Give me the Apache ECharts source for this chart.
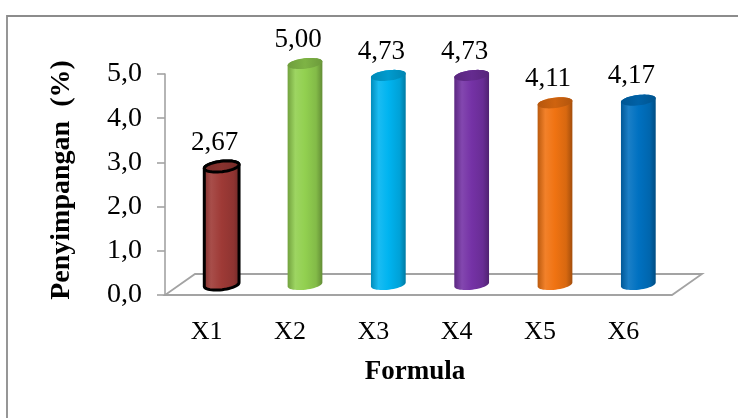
<!DOCTYPE html>
<html>
<head>
<meta charset="utf-8">
<title>Penyimpangan</title>
<script src="https://cdn.jsdelivr.net/npm/echarts@6.0.0/dist/echarts.min.js"></script>
<style>
  html, body { margin: 0; padding: 0; background: #fff; }
  #chart { width: 738px; height: 418px; }
</style>
</head>
<body>
<div id="chart"></div>
<script>
// Data
const categories = ['X1', 'X2', 'X3', 'X4', 'X5', 'X6'];
const values = [2.67, 5.00, 4.73, 4.73, 4.11, 4.17];
const yTickValues = [0, 1, 2, 3, 4, 5];
const barColors = ['#9e3a36', '#92d050', '#00b4f0', '#7532a6', '#f07312', '#0071c1'];
const xTitle = 'Formula';
const yTitle = 'Penyimpangan  (%)';

// Layout of the 3D frame (front axis plane and the depth offset of the floor)
const FONT = '"Liberation Serif", "Times New Roman", serif';
const AX_LEFT = 165, AX_TOP = 74, AX_BOTTOM = 295, PLOT_W = 500;
const DEPTH_X = 30, DEPTH_Y = 21, FLOOR_W = 507;
const PLOT_H = AX_BOTTOM - AX_TOP;

const comma = (v, d) => v.toFixed(d).replace('.', ',');

function hexRgb(h) {
  const n = parseInt(h.slice(1), 16);
  return [(n >> 16) & 255, (n >> 8) & 255, n & 255];
}
function shade(h, f) {
  const [r, g, b] = hexRgb(h);
  return 'rgb(' + [r, g, b].map(c => Math.round(c * f)).join(',') + ')';
}
function tint(h, f) {
  const [r, g, b] = hexRgb(h);
  return 'rgb(' + [r, g, b].map(c => Math.round(c + (255 - c) * f)).join(',') + ')';
}
function hGrad(stops) {
  return { type: 'linear', x: 0, y: 0, x2: 1, y2: 0, colorStops: stops.map(s => ({ offset: s[0], color: s[1] })) };
}
function ellipsePts(cx, cy, rx, ry, rot, t0, t1, n) {
  const c = Math.cos(rot), s = Math.sin(rot), pts = [];
  for (let k = 0; k <= n; k++) {
    const t = t0 + (t1 - t0) * k / n;
    const x = rx * Math.cos(t), y = ry * Math.sin(t);
    pts.push([cx + x * c - y * s, cy + x * s + y * c]);
  }
  return pts;
}

// One shaded cylinder per category, with its value written above it
function renderCylinder(params, api) {
  const idx = api.value(0);
  const v = api.value(1);
  const top = api.coord([idx, v]);
  const base = api.coord([idx, 0]);
  const rx = api.size([1, 0])[0] * 0.21;
  const ry = 5.2, rot = -0.12;
  const col = barColors[idx];
  const outlined = idx === 0;
  const stroke = outlined ? { stroke: '#000', lineWidth: 3 } : {};

  const bodyPts = ellipsePts(top[0], top[1], rx, ry, rot, Math.PI, 2 * Math.PI, 24)
    .concat(ellipsePts(base[0], base[1], rx, ry, rot, 0, Math.PI, 24));
  const capPts = ellipsePts(top[0], top[1], rx, ry, rot, 0, 2 * Math.PI, 48);

  return {
    type: 'group',
    children: [
      {
        type: 'polygon',
        shape: { points: bodyPts },
        style: Object.assign({
          fill: hGrad([[0, shade(col, 0.78)], [0.22, tint(col, 0.1)], [0.5, col], [0.82, shade(col, 0.9)], [1, shade(col, 0.68)]])
        }, stroke)
      },
      {
        type: 'polygon',
        shape: { points: capPts },
        style: Object.assign({
          fill: hGrad([[0, shade(col, 0.76)], [0.5, shade(col, 0.86)], [1, shade(col, 0.74)]])
        }, stroke)
      },
      {
        type: 'text',
        x: top[0] - 7,
        y: top[1] - 24,
        style: {
          text: comma(v, 2),
          fontSize: 27,
          fontFamily: FONT,
          fill: '#000',
          align: 'center',
          verticalAlign: 'middle'
        }
      }
    ]
  };
}

const chart = echarts.init(document.getElementById('chart'), null, { renderer: 'canvas' });

const floor = [
  [AX_LEFT, AX_BOTTOM],
  [AX_LEFT + FLOOR_W, AX_BOTTOM],
  [AX_LEFT + FLOOR_W + DEPTH_X, AX_BOTTOM - DEPTH_Y],
  [AX_LEFT + DEPTH_X, AX_BOTTOM - DEPTH_Y]
];

chart.setOption({
  animation: false,
  backgroundColor: '#fff',
  grid: [
    { left: AX_LEFT, top: AX_TOP, width: PLOT_W, height: PLOT_H },
    { left: AX_LEFT + DEPTH_X / 2, top: AX_TOP - DEPTH_Y / 2, width: PLOT_W, height: PLOT_H }
  ],
  xAxis: [
    {
      gridIndex: 0,
      type: 'category',
      data: categories,
      axisLine: { show: false },
      axisTick: { show: false },
      axisLabel: { fontSize: 26, fontFamily: FONT, color: '#000', margin: 24 }
    },
    { gridIndex: 1, type: 'category', data: categories, show: false }
  ],
  yAxis: [
    {
      gridIndex: 0,
      type: 'value',
      min: yTickValues[0],
      max: yTickValues[yTickValues.length - 1],
      interval: 1,
      axisLine: { show: true, lineStyle: { color: '#a3a3a3', width: 1.6 } },
      axisTick: { show: true, length: 8, lineStyle: { color: '#a3a3a3', width: 1.6 } },
      splitLine: { show: false },
      axisLabel: {
        fontSize: 28, fontFamily: FONT, color: '#000', margin: 23,
        formatter: v => comma(v, 1)
      }
    },
    {
      gridIndex: 1, type: 'value',
      min: yTickValues[0], max: yTickValues[yTickValues.length - 1],
      show: false
    }
  ],
  graphic: [
    {
      type: 'rect',
      shape: { x: 7, y: 16, width: 760, height: 440 },
      style: { fill: 'none', stroke: '#8c8c8c', lineWidth: 1.8 },
      silent: true
    },
    {
      type: 'polygon',
      shape: { points: floor },
      style: { fill: '#fff', stroke: '#a3a3a3', lineWidth: 1.8 },
      silent: true
    },
    {
      type: 'text',
      x: AX_LEFT + PLOT_W / 2,
      y: 372,
      style: { text: xTitle, fontSize: 27, fontWeight: 'bold', fontFamily: FONT, fill: '#000', align: 'center', verticalAlign: 'middle' }
    },
    {
      type: 'text',
      x: 62,
      y: 180,
      rotation: Math.PI / 2,
      style: { text: yTitle, fontSize: 28, fontWeight: 'bold', fontFamily: FONT, fill: '#000', align: 'center', verticalAlign: 'middle' }
    }
  ],
  series: [
    {
      type: 'custom',
      xAxisIndex: 1,
      yAxisIndex: 1,
      z: 5,
      renderItem: renderCylinder,
      encode: { x: 0, y: 1 },
      data: values.map((v, i) => [i, v])
    }
  ]
});
</script>
</body>
</html>
